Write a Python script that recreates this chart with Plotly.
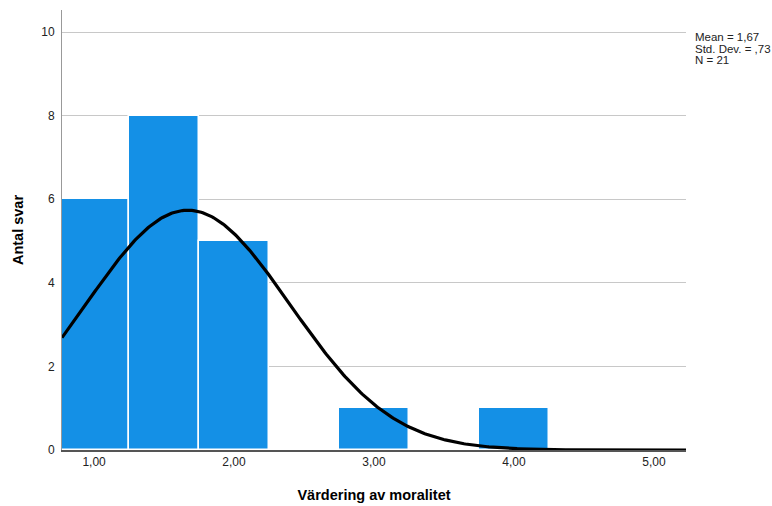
import numpy as np
import plotly.graph_objects as go

# Histogram bins (width 0.5) and counts
bin_centers = [1.0, 1.5, 2.0, 3.0, 4.0]
counts = [6, 8, 5, 1, 1]
bin_width = 0.5

# Summary statistics shown next to the plot
mean_val = 1.67
std_val = 0.73
n_val = 21

x_ticks = [1, 2, 3, 4, 5]
x_tick_labels = ["1,00", "2,00", "3,00", "4,00", "5,00"]
y_ticks = [0, 2, 4, 6, 8, 10]

x_range = [0.771, 5.229]
y_range = [0, 10.53]

# Normal curve scaled to counts per bin
xs = np.linspace(x_range[0], x_range[1], 400)
ys = n_val * bin_width / (std_val * np.sqrt(2 * np.pi)) * np.exp(-0.5 * ((xs - mean_val) / std_val) ** 2)

fig = go.Figure()
fig.add_trace(go.Bar(
    x=bin_centers, y=counts, width=bin_width,
    marker=dict(color="#1490E6", line=dict(color="white", width=1.5)),
    showlegend=False, hoverinfo="skip",
))
fig.add_trace(go.Scatter(
    x=xs, y=ys, mode="lines",
    line=dict(color="black", width=3.2),
    showlegend=False, hoverinfo="skip",
))

font_family = "Liberation Sans, Arial, sans-serif"

fig.update_layout(
    width=772, height=506,
    margin=dict(l=62, r=86, t=10, b=56),
    paper_bgcolor="white", plot_bgcolor="white",
    font=dict(family=font_family, size=12, color="#222"),
    bargap=0,
    xaxis=dict(
        range=x_range, tickvals=x_ticks, ticktext=x_tick_labels,
        showgrid=False, zeroline=False, automargin=False,
        showline=True, linecolor="#555", linewidth=1.5,
        ticks="", tickfont=dict(size=12, color="#222"),
        title=dict(text="<b>Värdering av moralitet</b>", font=dict(size=14.5, color="#000"), standoff=22),
    ),
    yaxis=dict(
        range=y_range, tickvals=y_ticks,
        showgrid=True, gridcolor="#c8c8c8", gridwidth=1,
        zeroline=False, automargin=False,
        showline=True, linecolor="#999", linewidth=1,
        ticks="", ticklabelstandoff=4, tickfont=dict(size=12, color="#222"),
        title=dict(text="<b>Antal svar</b>", font=dict(size=14.5, color="#000"), standoff=14),
    ),
)

stats_lines = ["Mean = 1,67", "Std. Dev. = ,73", f"N = {n_val}"]
for i, line in enumerate(stats_lines):
    fig.add_annotation(
        xref="paper", yref="paper",
        x=(693 - 62) / 624, y=(450 - 37 - i * 11.5) / 440,
        xanchor="left", yanchor="middle",
        text=line, showarrow=False,
        font=dict(size=11.5, color="#222", family=font_family),
    )

fig.write_html("out.html")
